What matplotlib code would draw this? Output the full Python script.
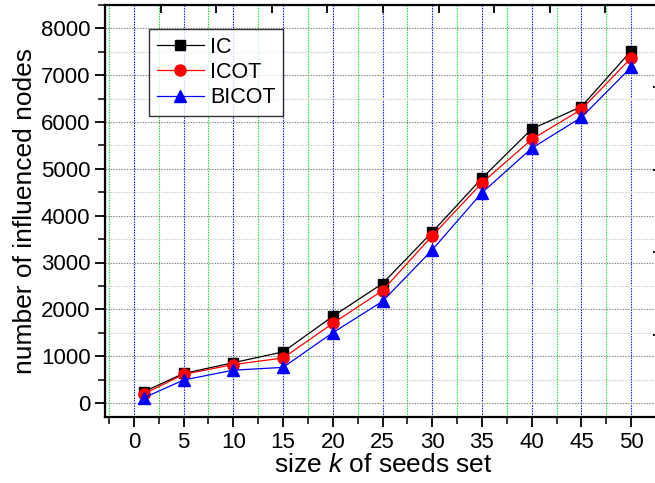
import matplotlib
matplotlib.use('Agg')
import matplotlib.pyplot as plt
from matplotlib.ticker import MultipleLocator, NullFormatter

plt.rcParams['font.family'] = ['Liberation Sans', 'DejaVu Sans']
plt.rcParams['mathtext.fontset'] = 'custom'
plt.rcParams['mathtext.it'] = 'Liberation Sans:italic'
plt.rcParams['mathtext.rm'] = 'Liberation Sans'

k = [1, 5, 10, 15, 20, 25, 30, 35, 40, 45, 50]
ic = [240, 630, 860, 1090, 1850, 2550, 3650, 4800, 5850, 6330, 7520]
icot = [190, 610, 820, 960, 1700, 2400, 3570, 4700, 5630, 6270, 7370]
bicot = [110, 490, 700, 760, 1500, 2170, 3270, 4490, 5440, 6100, 7170]

fig = plt.figure(figsize=(6.55, 4.83), dpi=100)
pos = [105 / 655, 66 / 483, 556 / 655, 412 / 483]
ax = fig.add_axes(pos)

ax.plot(k, ic, color='black', lw=0.9, marker='s', ms=7, label='IC', zorder=3)
ax.plot(k, icot, color='red', lw=0.9, marker='o', ms=8, label='ICOT', zorder=3)
ax.plot(k, bicot, color='blue', lw=0.9, marker='^', ms=9, label='BICOT', zorder=3)

ax.set_xlim(-2.9, 53.0)
ax.set_ylim(-300, 8500)
ax.xaxis.set_major_locator(MultipleLocator(5))
ax.xaxis.set_minor_locator(MultipleLocator(2.5))
ax.yaxis.set_major_locator(MultipleLocator(1000))
ax.yaxis.set_minor_locator(MultipleLocator(500))

ax.grid(which='major', axis='x', color='#0000ff', ls=(0, (1.2, 1.2)), lw=0.8)
ax.grid(which='minor', axis='x', color='#00e600', ls=(0, (1.2, 1.2)), lw=0.8)
ax.grid(which='major', axis='y', color='#808080', ls=(0, (1.2, 1.2)), lw=0.8)
ax.grid(which='minor', axis='y', color='#c8c8c8', ls=(0, (1.2, 1.2)), lw=0.8)
ax.set_axisbelow(True)

ax.tick_params(which='major', direction='out', length=7, width=1.3, labelsize=16, top=False, right=False)
ax.tick_params(which='minor', direction='out', length=5, width=1.1, top=False, right=False)
for s in ax.spines.values():
    s.set_linewidth(1.6)

ax.set_xlabel('size $k$ of seeds set', fontsize=19, labelpad=0)
ax.set_ylabel('number of influenced nodes', fontsize=19, labelpad=3)

# ghost top/right ticks pointing inward
gh = fig.add_axes(pos, frameon=False)
gh.set_xlim(0, 10)
gh.set_ylim(0, 5)
gh.xaxis.set_major_locator(MultipleLocator(1))
gh.yaxis.set_major_locator(MultipleLocator(1))
gh.xaxis.set_major_formatter(NullFormatter())
gh.yaxis.set_major_formatter(NullFormatter())
gh.tick_params(direction='in', length=6, width=1.3, top=True, right=True, bottom=False, left=False)
gh.patch.set_visible(False)

leg = ax.legend(loc='upper left', bbox_to_anchor=(149 / 655, 1 - 29 / 483), bbox_transform=fig.transFigure,
                borderaxespad=0, fontsize=15.5, frameon=True, fancybox=False, edgecolor='black',
                handlelength=2.2, borderpad=0.35, labelspacing=0.2, handletextpad=0.3)
leg.get_frame().set_linewidth(1.0)
leg.set_zorder(5)

fig.savefig('out.png', dpi=100)
